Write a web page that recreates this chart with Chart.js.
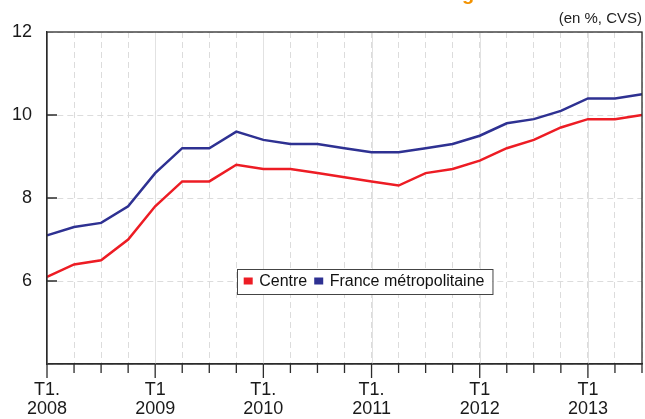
<!DOCTYPE html>
<html>
<head>
<meta charset="utf-8">
<script src="https://cdn.jsdelivr.net/npm/chart.js@4"></script>
<style>
  html, body { margin:0; padding:0; background:#fff }
  canvas { display:block }
</style>
</head>
<body>
<canvas id="chomage" width="645" height="419"></canvas>
<script>
// quarters T1 2008 .. T3 2013
const quarters = ['T1 2008','T2 2008','T3 2008','T4 2008','T1 2009','T2 2009','T3 2009','T4 2009',
  'T1 2010','T2 2010','T3 2010','T4 2010','T1 2011','T2 2011','T3 2011','T4 2011',
  'T1 2012','T2 2012','T3 2012','T4 2012','T1 2013','T2 2013','T3 2013']
const xTickLabels = [['T1.','2008'],'','','',['T1','2009'],'','','',['T1.','2010'],'','','',
  ['T1.','2011'],'','','',['T1','2012'],'','','',['T1','2013'],'','']
const yTickLabels = [6, 8, 10, 12]
const centre = [6.1,6.4,6.5,7.0,7.8,8.4,8.4,8.8,8.7,8.7,8.6,8.5,8.4,8.3,8.6,8.7,8.9,9.2,9.4,9.7,9.9,9.9,10.0]
const france = [7.1,7.3,7.4,7.8,8.6,9.2,9.2,9.6,9.4,9.3,9.3,9.2,9.1,9.1,9.2,9.3,9.5,9.8,9.9,10.1,10.4,10.4,10.5]
const unitNote = '(en %, CVS)'

const FONT = "'Liberation Sans', Arial, sans-serif"
const isYear = i => Array.isArray(xTickLabels[i])

// solid year grid lines, plot frame, tick marks, legend box, unit note
const decor = {
  id:'decor',
  beforeDatasetsDraw(chart) {
    const {ctx, chartArea:a, scales:{x}} = chart
    ctx.save()
    ctx.strokeStyle = '#e2e2e2'; ctx.lineWidth = 1
    quarters.forEach((q,i) => {
      if (!isYear(i)) return
      const px = Math.round(x.getPixelForValue(i)) + 0.5
      ctx.beginPath(); ctx.moveTo(px, a.top); ctx.lineTo(px, a.bottom); ctx.stroke()
    })
    ctx.restore()
  },
  afterDatasetsDraw(chart) {
    const {ctx, chartArea:a, scales:{x,y}} = chart
    ctx.save()
    ctx.strokeStyle = '#2b2b2b'; ctx.lineWidth = 1.3
    ctx.strokeRect(a.left, a.top, a.right - a.left, a.bottom - a.top)
    ctx.beginPath()
    quarters.forEach((q,i) => {
      const px = x.getPixelForValue(i)
      ctx.moveTo(px, a.bottom); ctx.lineTo(px, a.bottom + (isYear(i) ? 14 : 9))
    })
    yTickLabels.forEach(v => {
      if (v === 12) return
      const py = y.getPixelForValue(v)
      ctx.moveTo(a.left, py); ctx.lineTo(a.left + 10, py)
    })
    ctx.stroke()
    ctx.restore()
  },
  afterDraw(chart) {
    const {ctx, chartArea:a} = chart
    ctx.save()
    // fragment of the title above the frame
    ctx.fillStyle = '#f39200'; ctx.font = 'bold 20px ' + FONT
    ctx.textBaseline = 'alphabetic'; ctx.textAlign = 'left'
    ctx.fillText('g', 462, 0)
    ctx.fillStyle = '#222'; ctx.font = '15px ' + FONT
    ctx.textAlign = 'right'; ctx.textBaseline = 'middle'
    ctx.fillText(unitNote, a.right, 19)
    // legend
    const left = 237, top = 269, h = 25
    ctx.font = '16px ' + FONT; ctx.textAlign = 'left'
    const ds = chart.data.datasets
    const w = 6.7 + ds.reduce((s,d,i) => s + 9 + 6.5 + ctx.measureText(d.label).width + (i ? 0 : 7), 0) + 8
    ctx.fillStyle = '#fff'; ctx.fillRect(left, top, w, h)
    ctx.strokeStyle = '#444'; ctx.lineWidth = 1
    ctx.strokeRect(left + 0.5, top + 0.5, w, h)
    let cx = left + 6.7
    const cy = top + h/2
    ds.forEach(d => {
      ctx.fillStyle = d.borderColor
      ctx.fillRect(cx, cy - 4, 9, 7)
      cx += 9 + 6.5
      ctx.fillStyle = '#111'
      ctx.fillText(d.label, cx, cy + 0.5)
      cx += ctx.measureText(d.label).width + 7
    })
    ctx.restore()
  }
}

new Chart(document.getElementById('chomage'), {
  type:'line',
  data:{
    labels: quarters,
    datasets:[
      {label:'Centre', data:centre, borderColor:'#ed1c24', backgroundColor:'#ed1c24', borderWidth:2.5, pointRadius:0, tension:0},
      {label:'France métropolitaine', data:france, borderColor:'#2e3192', backgroundColor:'#2e3192', borderWidth:2.5, pointRadius:0, tension:0}
    ]
  },
  options:{
    responsive:false, animation:false,
    layout:{padding:{top:32, right:3, left:0, bottom:0}},
    plugins:{legend:{display:false}, tooltip:{enabled:false}},
    scales:{
      x:{
        offset:false,
        grid:{color:'#dcdcdc', lineWidth:1, drawTicks:false},
        border:{display:true, color:'#2b2b2b', width:1.3, dash:[6,4]},
        ticks:{autoSkip:false, maxRotation:0, padding:17, color:'#1a1a1a',
          font:{family:FONT, size:18, lineHeight:1.05},
          callback:(v,i) => xTickLabels[i]},
        afterFit:s => { s.height = 55; s.paddingLeft = 0; s.paddingRight = 0 }
      },
      y:{
        min:4, max:12,
        grid:{color:'#dcdcdc', lineWidth:1, drawTicks:false},
        border:{display:true, color:'#2b2b2b', width:1.3, dash:[6,4]},
        ticks:{stepSize:2, padding:15, color:'#1a1a1a', font:{family:FONT, size:18},
          callback:v => yTickLabels.includes(v) ? String(v) : ''},
        afterFit:s => { s.width = 47; s.paddingTop = 0; s.paddingBottom = 0 }
      }
    }
  },
  plugins:[decor]
})
</script>
</body>
</html>
